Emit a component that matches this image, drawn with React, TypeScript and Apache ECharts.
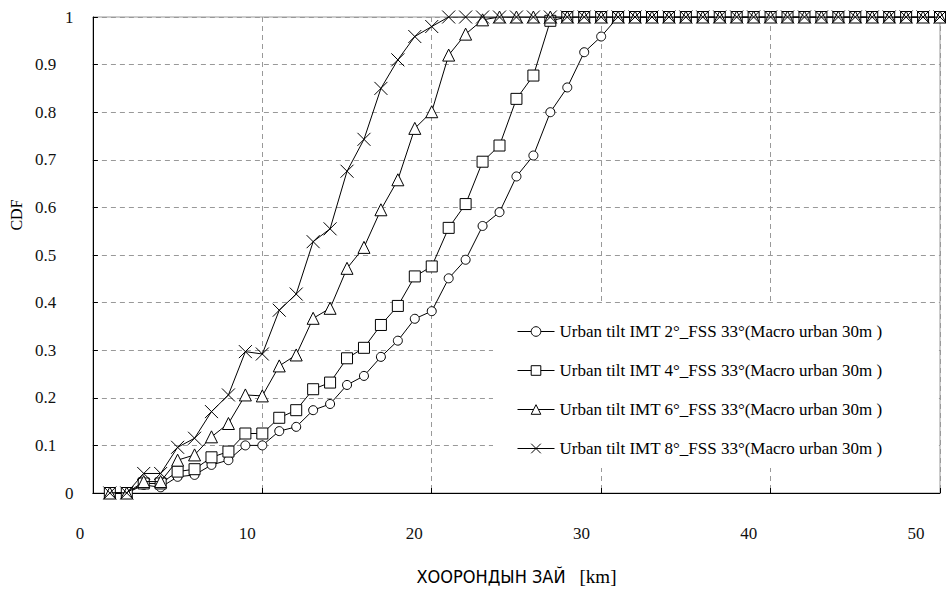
import React, { useEffect, useRef } from "react";
import * as echarts from "echarts";

const distances = [1, 2, 3, 4, 5, 6, 7, 8, 9, 10, 11, 12, 13, 14, 15, 16, 17, 18, 19, 20, 21, 22, 23, 24, 25, 26, 27, 28, 29, 30, 31, 32, 33, 34, 35, 36, 37, 38, 39, 40, 41, 42, 43, 44, 45, 46, 47, 48, 49, 50];

const cdfTilt2 = [0, 0, 0.017, 0.012, 0.034, 0.038, 0.059, 0.069, 0.1, 0.1, 0.13, 0.139, 0.174, 0.187, 0.227, 0.246, 0.286, 0.32, 0.366, 0.382, 0.451, 0.49, 0.561, 0.59, 0.665, 0.709, 0.8, 0.852, 0.926, 0.959, 1, 1, 1, 1, 1, 1, 1, 1, 1, 1, 1, 1, 1, 1, 1, 1, 1, 1, 1, 1];

const cdfTilt4 = [0, 0, 0.02, 0.02, 0.045, 0.05, 0.075, 0.087, 0.125, 0.125, 0.158, 0.174, 0.218, 0.232, 0.283, 0.305, 0.353, 0.393, 0.455, 0.476, 0.557, 0.607, 0.696, 0.73, 0.828, 0.877, 0.992, 1, 1, 1, 1, 1, 1, 1, 1, 1, 1, 1, 1, 1, 1, 1, 1, 1, 1, 1, 1, 1, 1, 1];

const cdfTilt6 = [0, 0, 0.024, 0.024, 0.069, 0.08, 0.118, 0.146, 0.206, 0.204, 0.267, 0.29, 0.367, 0.388, 0.472, 0.516, 0.595, 0.658, 0.766, 0.801, 0.92, 0.964, 0.994, 1, 1, 1, 1, 1, 1, 1, 1, 1, 1, 1, 1, 1, 1, 1, 1, 1, 1, 1, 1, 1, 1, 1, 1, 1, 1, 1];

const cdfTilt8 = [0, 0, 0.041, 0.041, 0.096, 0.115, 0.171, 0.206, 0.297, 0.292, 0.384, 0.418, 0.528, 0.555, 0.676, 0.743, 0.85, 0.91, 0.959, 0.98, 1, 1, 1, 1, 1, 1, 1, 1, 1, 1, 1, 1, 1, 1, 1, 1, 1, 1, 1, 1, 1, 1, 1, 1, 1, 1, 1, 1, 1, 1];

const seriesNames = [
  "Urban tilt IMT 2°_FSS 33°(Macro urban 30m )",
  "Urban tilt IMT 4°_FSS 33°(Macro urban 30m )",
  "Urban tilt IMT 6°_FSS 33°(Macro urban 30m )",
  "Urban tilt IMT 8°_FSS 33°(Macro urban 30m )",
];

const xTicks = [0, 10, 20, 30, 40, 50];
const xAxisTitle = "ХООРОНДЫН ЗАЙ";
const xAxisUnit = "[km]";
const yAxisTitle = "CDF";

const SERIF = "'Liberation Serif', 'Times New Roman', serif";

export default function App() {
  const ref = useRef<HTMLDivElement>(null);

  useEffect(() => {
    if (!ref.current) return;
    const chart = echarts.init(ref.current, undefined, { renderer: "svg" });

    const seriesData = [cdfTilt2, cdfTilt4, cdfTilt6, cdfTilt8];
    const symbols = ["circle", "rect", "triangle", "path://M0,0L10,10M10,0L0,10"];
    const sizes = [9, 11, 12, 13];

    const xRich: Record<string, any> = {};
    xTicks.forEach((v) => {
      xRich["p" + v] = {
        fontFamily: SERIF,
        fontSize: 17,
        color: "#111",
        padding: [0, 2 * (13 + 0.22 * v), 0, 0],
      };
    });

    chart.setOption({
      animation: false,
      backgroundColor: "#fff",
      grid: {
        left: 88,
        right: 6,
        top: 17,
        bottom: 99,
        show: true,
        borderColor: "#999",
        borderWidth: 1,
        backgroundColor: "transparent",
      },
      legend: {
        orient: "vertical",
        left: 493,
        top: 305,
        backgroundColor: "#fff",
        padding: [18, 56, 11, 24],
        itemGap: 22,
        itemWidth: 37,
        itemHeight: 12,
        textStyle: { fontFamily: SERIF, fontSize: 17, color: "#000" },
        lineStyle: { color: "#000", width: 1 },
        itemStyle: { color: "#fff", borderColor: "#000", borderWidth: 1 },
        data: seriesNames,
      },
      xAxis: {
        type: "value",
        min: 0,
        max: 50,
        interval: 10,
        name: `{c|${xAxisTitle}}{k|${xAxisUnit}}`,
        nameLocation: "middle",
        nameGap: 74,
        nameTextStyle: {
          rich: {
            c: {
              fontFamily: "'DejaVu Sans Condensed', 'DejaVu Sans', sans-serif",
              fontSize: 18,
              color: "#000",
            },
            k: { fontFamily: SERIF, fontSize: 19, color: "#000", padding: [0, 0, 0, 14] },
          },
        },
        axisLine: { show: true, lineStyle: { color: "#000", width: 1 } },
        axisTick: { show: true, inside: true, length: 5, lineStyle: { color: "#000" } },
        axisLabel: {
          margin: 32,
          formatter: (v: number) => `{p${v}|${v}}`,
          rich: xRich,
        },
        splitLine: {
          show: true,
          lineStyle: { color: "#999", type: [5, 4], width: 1 },
        },
      },
      yAxis: {
        type: "value",
        min: 0,
        max: 1,
        interval: 0.1,
        name: yAxisTitle,
        nameLocation: "middle",
        nameGap: 58,
        nameTextStyle: {
          fontFamily: SERIF,
          fontSize: 16,
          color: "#000",
          padding: [0, 0, 0, 80],
        },
        axisLine: { show: true, lineStyle: { color: "#000", width: 1 } },
        axisTick: { show: true, inside: true, length: 5, lineStyle: { color: "#000" } },
        axisLabel: {
          align: "left",
          margin: 58,
          formatter: (v: number) =>
            Number.isInteger(v) ? `{i|${v}}` : `{d|${Math.round(v * 10) / 10}}`,
          rich: {
            i: { fontFamily: SERIF, fontSize: 17, color: "#111", padding: [0, 0, 0, 30] },
            d: { fontFamily: SERIF, fontSize: 17, color: "#111" },
          },
        },
        splitLine: {
          show: true,
          lineStyle: { color: "#999", type: [5, 4], width: 1 },
        },
      },
      series: seriesNames.map((name, k) => ({
        name,
        type: "line",
        data: distances.map((d, i) => [d, seriesData[k][i]]),
        symbol: symbols[k],
        symbolSize: sizes[k],
        showAllSymbol: true,
        lineStyle: { color: "#000", width: 1 },
        itemStyle: { color: "#fff", borderColor: "#000", borderWidth: 1 },
        z: 3 + k,
      })),
    });

    return () => chart.dispose();
  }, []);

  return (
    <div
      ref={ref}
      style={{ position: "fixed", left: 0, top: 0, width: 946, height: 592 }}
    />
  );
}
